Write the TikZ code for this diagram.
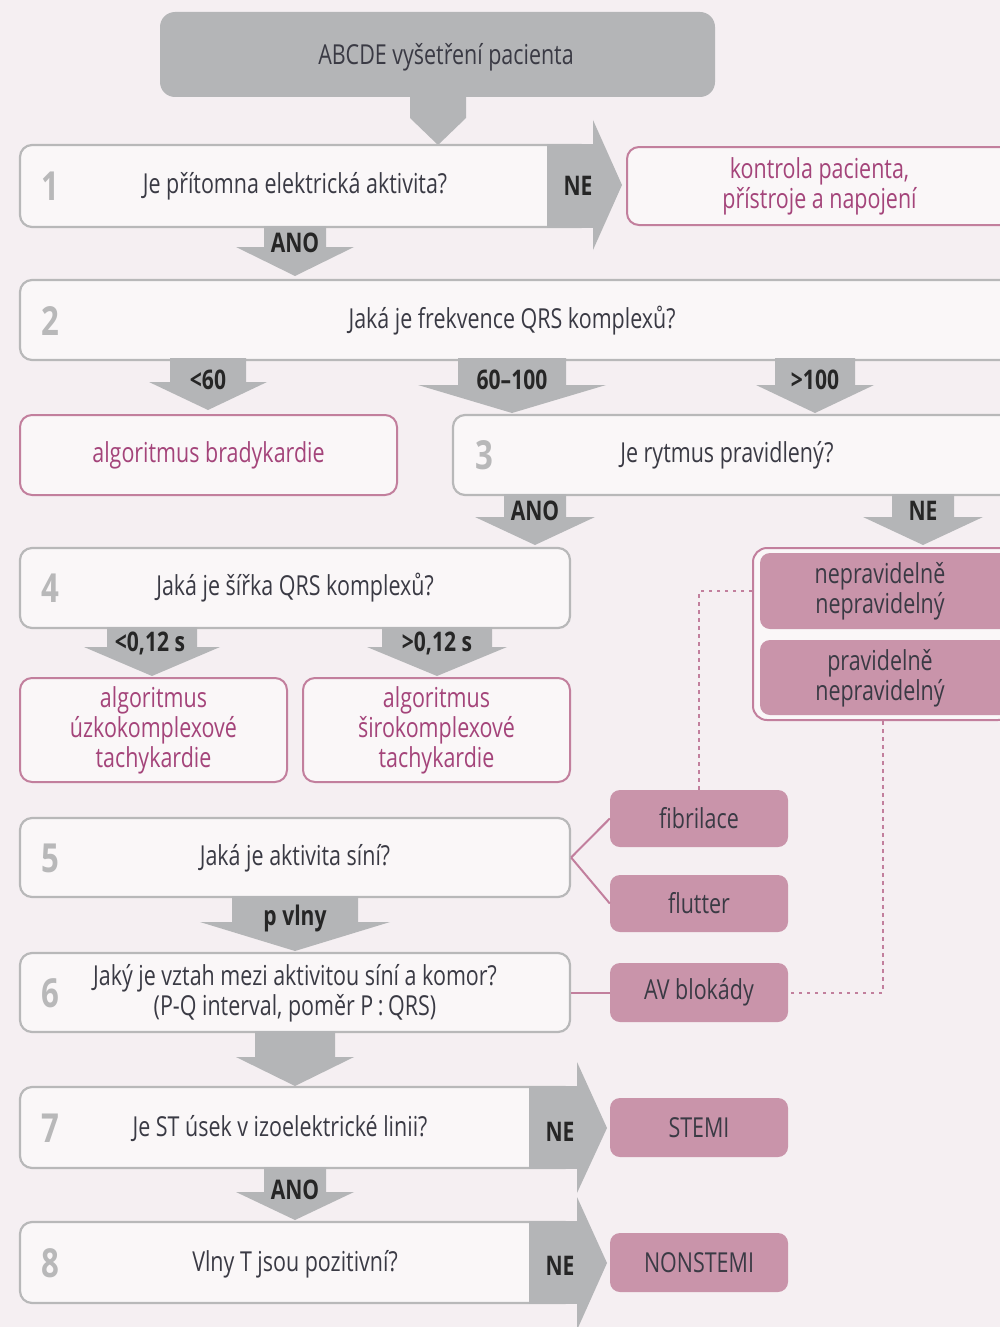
\documentclass[tikz,border=0pt]{standalone}
\usepackage{fontspec}
\setmainfont{Open Sans}[FakeStretch=0.78]
\usetikzlibrary{calc}
\definecolor{bg}{HTML}{F5EFF2}
\definecolor{boxfill}{HTML}{FAF7F8}
\definecolor{garrow}{HTML}{B4B5B7}
\definecolor{boxgray}{HTML}{B8B8B9}
\definecolor{numgray}{HTML}{B8B8B9}
\definecolor{pinkline}{HTML}{C27F9D}
\definecolor{pinkfill}{HTML}{C994AA}
\definecolor{pinktext}{HTML}{A4447A}
\definecolor{dtext}{HTML}{3A3A44}
\newcommand\dnarrow[6]{% cx, ytop, stemhalf, yhead, headhalf, ytip
  \fill[garrow] ({#1-#3},#2) -- ({#1+#3},#2) -- ({#1+#3},#4) -- ({#1+#5},#4) -- (#1,#6) -- ({#1-#5},#4) -- ({#1-#3},#4) -- cycle;}
\begin{document}
\begin{tikzpicture}[x=1pt,y=-1pt,
  txt/.style={font=\fontsize{27.5}{30}\selectfont, text=dtext, align=center, inner sep=0pt},
  lab/.style={font=\bfseries\fontsize{27}{28}\selectfont, text=black!85, inner sep=0pt},
  num/.style={font=\bfseries\fontsize{40}{42}\selectfont, text=numgray, inner sep=0pt},
  qbox/.style={draw=boxgray, line width=2.2pt, fill=boxfill, rounded corners=12pt, inner sep=0pt},
  pbox/.style={draw=pinkline, line width=2pt, fill=boxfill, rounded corners=12pt, inner sep=0pt, font=\fontsize{27.5}{30}\selectfont, text=pinktext, align=center},
  fbox/.style={fill=pinkfill, rounded corners=10pt, inner sep=0pt, font=\fontsize{27.5}{30}\selectfont, text=dtext, align=center},
  link/.style={draw=pinkline, line width=2pt},
  dlink/.style={draw=pinkline, line width=2pt, dash pattern=on 3.5pt off 4.5pt}]
\fill[bg] (0,0) rectangle (1000,1327);
\useasboundingbox (0,0) rectangle (1000,1327);
\clip (0,0) rectangle (1000,1327);

% top box
\node[fill=garrow, rounded corners=15pt, minimum width=555pt, minimum height=85pt, inner sep=0pt] (top) at (437.5,54.5) {};
\node[txt] (ttop) at (446,57) {ABCDE vyšetření pacienta};
\dnarrow{438}{95}{28}{118}{28}{145}

% box 1
\node[qbox, minimum width=573pt, minimum height=82pt] (b1) at (306.5,186) {};
\fill[garrow] (547,144) rectangle (594,228);
\fill[garrow] (593,120) -- (622,185) -- (593,250) -- cycle;
\node[num] (n1) at (50,186) {1};
\node[txt] (t1) at (295,186) {Je přítomna elektrická aktivita?};
\node[lab] (ne1) at (578,186) {NE};
\node[pbox, minimum width=385pt, minimum height=78pt] (kontrola) at (819.5,186) {kontrola pacienta,\\přístroje a napojení};
\dnarrow{295}{226}{31}{247}{59}{276}
\node[lab] (ano1) at (295,243) {ANO};

% box 2
\node[qbox, minimum width=992pt, minimum height=80pt] (b2) at (516,320) {};
\node[num] (n2) at (50,321) {2};
\node[txt] (t2) at (512,321) {Jaká je frekvence QRS komplexů?};
\dnarrow{208}{358}{38}{382}{59}{410}
\dnarrow{512}{358}{54}{385}{94}{413}
\dnarrow{815}{358}{40}{385}{59}{413}
\node[lab] (l60) at (208,380) {<60};
\node[lab] (l60100) at (512,380) {60–100};
\node[lab] (l100) at (815,380) {>100};

% row 3
\node[pbox, minimum width=377pt, minimum height=80pt] (brady) at (208.5,455) {algoritmus bradykardie};
\node[qbox, minimum width=559pt, minimum height=80pt] (b3) at (732.5,455) {};
\node[num] (n3) at (484,455) {3};
\node[txt] (t3) at (727,455) {Je rytmus pravidlený?};
\dnarrow{535}{494}{31}{517}{60}{545}
\dnarrow{923}{494}{31}{517}{60}{545}
\node[lab] (ano3) at (535,511) {ANO};
\node[lab] (ne3) at (923,511) {NE};

% box 4
\node[qbox, minimum width=550pt, minimum height=80pt] (b4) at (295,588) {};
\node[num] (n4) at (50,588) {4};
\node[txt] (t4) at (295,588) {Jaká je šířka QRS komplexů?};
\dnarrow{152}{627}{45}{647}{68}{676}
\dnarrow{437}{627}{55}{647}{70}{676}
\node[lab] (lq1) at (150,643) {<0,12 s};
\node[lab] (lq2) at (437,643) {>0,12 s};
\node[pbox, minimum width=267pt, minimum height=104pt] (uzko) at (153.5,730) {algoritmus\\úzkokomplexové\\tachykardie};
\node[pbox, minimum width=267pt, minimum height=104pt] (siroko) at (436.5,730) {algoritmus\\širokomplexové\\tachykardie};

% right group
\node[draw=pinkline, line width=2pt, fill=boxfill, rounded corners=14pt, minimum width=259pt, minimum height=172pt, inner sep=0pt] (grp) at (882.5,634) {};
\node[fbox, minimum width=250pt, minimum height=76pt] (in1) at (885,591) {};
\node[fbox, minimum width=250pt, minimum height=75pt] (in2) at (885,677.5) {};
\node[txt] (tin1) at (880,591) {nepravidelně\\nepravidelný};
\node[txt] (tin2) at (880,678) {pravidelně\\nepravidelný};

% side boxes
\node[fbox, minimum width=178pt, minimum height=57pt] (fib) at (699,818.5) {fibrilace};
\node[fbox, minimum width=178pt, minimum height=57pt] (flu) at (699,903.5) {flutter};
\node[fbox, minimum width=178pt, minimum height=59pt] (av) at (699,992.5) {AV blokády};

% box 5
\node[qbox, minimum width=550pt, minimum height=79pt] (b5) at (295,857.5) {};
\node[num] (n5) at (50,858) {5};
\node[txt] (t5) at (295,858) {Jaká je aktivita síní?};
\dnarrow{295}{896}{63}{922}{95}{951}
\node[lab] (pvlny) at (295,918) {p vlny};

% box 6
\node[qbox, minimum width=550pt, minimum height=79pt] (b6) at (295,992.5) {};
\node[num] (n6) at (50,993) {6};
\node[txt] (t6) at (295,993) {Jaký je vztah mezi aktivitou síní a komor?\\(P-Q interval, poměr P\,:\,QRS)};
\dnarrow{295}{1031}{40}{1057}{59}{1086}

% box 7
\node[qbox, minimum width=557pt, minimum height=81pt] (b7) at (298.5,1127.5) {};
\fill[garrow] (529,1086) rectangle (578,1169);
\fill[garrow] (577,1062) -- (607,1128) -- (577,1193) -- cycle;
\node[num] (n7) at (50,1128) {7};
\node[txt] (t7) at (280,1129) {Je ST úsek v izoelektrické linii?};
\node[lab] (ne7) at (560,1132) {NE};
\node[fbox, minimum width=178pt, minimum height=59pt] (stemi) at (699,1127.5) {STEMI};
\dnarrow{295}{1167}{31}{1192}{59}{1220}
\node[lab] (ano7) at (295,1190) {ANO};

% box 8
\node[qbox, minimum width=557pt, minimum height=81pt] (b8) at (298.5,1262.5) {};
\fill[garrow] (529,1221) rectangle (578,1304);
\fill[garrow] (577,1197) -- (607,1263) -- (577,1330) -- cycle;
\node[num] (n8) at (50,1263) {8};
\node[txt] (t8) at (295,1264) {Vlny T jsou pozitivní?};
\node[lab] (ne8) at (560,1266) {NE};
\node[fbox, minimum width=178pt, minimum height=59pt] (nonstemi) at (699,1262.5) {NONSTEMI};

% connectors
\draw[link] (b5.east) -- (fib.west);
\draw[link] (b5.east) -- (flu.west);
\draw[link] (b6.east) -- (av.west);
\draw[dlink] (grp.west |- in1.west) -| (fib.north);
\draw[dlink] (grp.south) |- (av.east);
\end{tikzpicture}
\end{document}
